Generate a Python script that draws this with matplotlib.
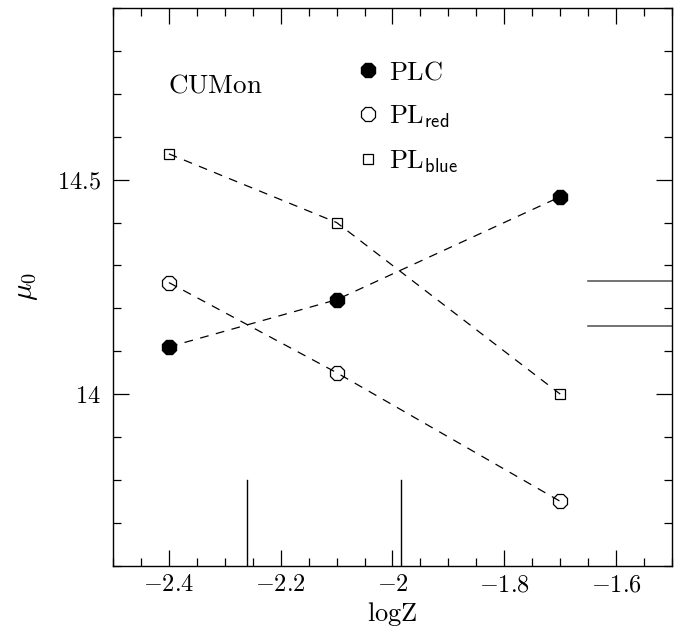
import matplotlib
matplotlib.use("Agg")
import matplotlib.pyplot as plt
from matplotlib.lines import Line2D
from matplotlib.ticker import MultipleLocator

plt.rcParams["mathtext.fontset"] = "cm"
plt.rcParams["font.family"] = ["cmr10", "DejaVu Serif"]
plt.rcParams["axes.formatter.use_mathtext"] = True

# Metallicity grid and distance moduli for each relation
log_z = [-2.4, -2.1, -1.7]
mu_plc = [14.11, 14.22, 14.46]
mu_pl_red = [14.26, 14.05, 13.75]
mu_pl_blue = [14.56, 14.40, 14.00]

# Reference markers: metallicity values and literature distance moduli
logz_refs = [-2.26, -1.985]
mu_refs = [14.263, 14.159]

x_ticks = [-2.4, -2.2, -2.0, -1.8, -1.6]
x_tick_labels = ["-2.4", "-2.2", "-2", "-1.8", "-1.6"]
y_ticks = [14.0, 14.5]
y_tick_labels = ["14", "14.5"]

fig = plt.figure(figsize=(6.86, 6.27), dpi=100)
ax = fig.add_axes([0.1647, 0.0978, 0.8149, 0.8894])

ax.set_xlim(-2.5, -1.5)
ax.set_ylim(13.6, 14.9)

dash = dict(color="black", lw=0.9, linestyle=(0, (7, 6)))
ax.plot(log_z, mu_plc, marker="8", ms=10.5, mfc="black", mec="black", **dash)
ax.plot(log_z, mu_pl_red, marker="8", ms=10.5, mfc="none", mec="black", mew=0.9, **dash)
ax.plot(log_z, mu_pl_blue, marker="s", ms=7, mfc="none", mec="black", mew=0.9, **dash)

for xv in logz_refs:
    ax.axvline(xv, ymin=0, ymax=(13.8 - 13.6) / (14.9 - 13.6), color="black", lw=1)
for yv in mu_refs:
    ax.axhline(yv, xmin=(-1.65 + 2.5) / 1.0, xmax=1, color="0.3", lw=1.1)

ax.set_xticks(x_ticks, [f"${s}$" for s in x_tick_labels])
ax.set_yticks(y_ticks, [f"${s}$" for s in y_tick_labels])
ax.xaxis.set_minor_locator(MultipleLocator(0.05))
ax.yaxis.set_minor_locator(MultipleLocator(0.1))
ax.tick_params(which="both", direction="in", top=True, right=True,
               labelsize=17.5, width=0.9)
ax.tick_params(which="major", length=11.5)
ax.tick_params(axis="x", which="major", pad=6)
ax.tick_params(axis="y", which="major", pad=9)
ax.tick_params(which="minor", length=6)
for sp in ax.spines.values():
    sp.set_linewidth(1.0)

ax.set_xlabel(r"$\mathrm{logZ}$", fontsize=19, labelpad=3)
ax.set_ylabel(r"$\mu_0$", fontsize=21, labelpad=12)

ax.text(0.098, 0.86, r"$\mathrm{CUMon}$", transform=ax.transAxes,
        fontsize=19.5, va="center", ha="left")

handles = [
    Line2D([], [], linestyle="none", marker="8", ms=10.5, mfc="black", mec="black"),
    Line2D([], [], linestyle="none", marker="8", ms=10.5, mfc="none", mec="black", mew=0.9),
    Line2D([], [], linestyle="none", marker="s", ms=7, mfc="none", mec="black", mew=0.9),
]
labels = [r"$\mathrm{PL}\mathrm{C}$", r"$\mathrm{PL}_{\mathsf{red}}$", r"$\mathrm{PL}_{\mathsf{blue}}$"]
ax.legend(handles, labels, loc="upper left", bbox_to_anchor=(0.416, 0.925),
          frameon=False, fontsize=19, handlelength=0.9, handletextpad=0.35,
          labelspacing=0.72, borderaxespad=0)

fig.savefig("out.png", dpi=100)
